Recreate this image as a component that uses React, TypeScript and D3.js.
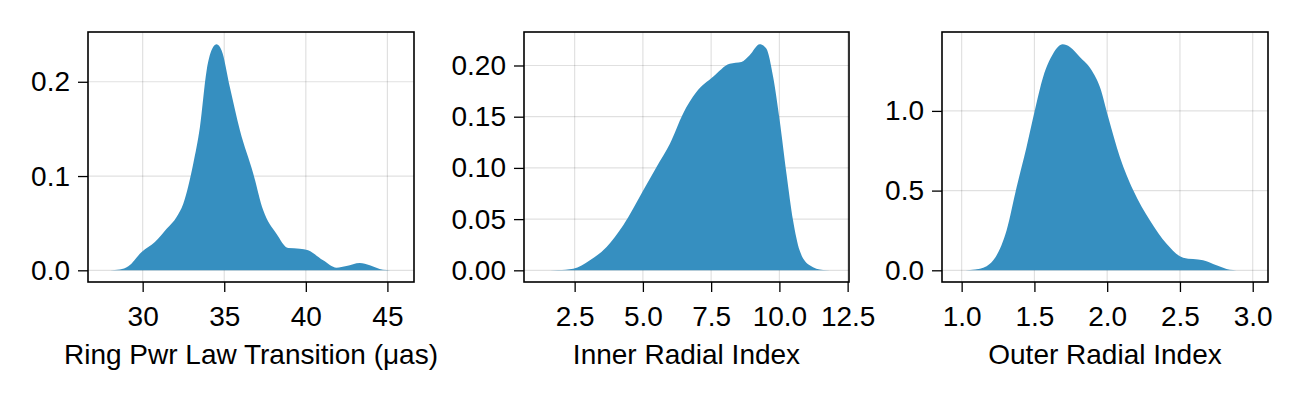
import * as d3 from "d3";
import { useEffect, useRef } from "react";

// Ring power-law transition (μas)
const ringX = [28.0, 28.6, 29.12, 29.94, 30.75, 31.47, 32.08, 32.49, 33.1, 33.51, 33.92, 34.32, 34.53, 34.84, 35.35, 35.96, 36.78, 37.39, 38.2, 38.92, 39.63, 40.14, 41.06, 41.88, 42.49, 43.31, 43.92, 44.73, 45.2];
const ringY = [0.0, 0.0008, 0.0042, 0.0194, 0.03, 0.044, 0.0566, 0.0707, 0.113, 0.152, 0.212, 0.2368, 0.2397, 0.2333, 0.194, 0.1485, 0.1025, 0.0636, 0.0389, 0.0237, 0.023, 0.0212, 0.0106, 0.0028, 0.0046, 0.0078, 0.0053, 0.0005, 0.0];

// Inner radial index
const innerX = [1.3, 1.9, 2.45, 3.06, 3.67, 4.28, 5.01, 5.5, 5.99, 6.47, 6.96, 7.57, 8.18, 8.61, 8.91, 9.28, 9.52, 9.77, 10.01, 10.26, 10.5, 10.74, 11.11, 11.6, 12.1];
const innerY = [0.0, 0.0003, 0.0016, 0.0098, 0.0228, 0.044, 0.078, 0.101, 0.1237, 0.153, 0.174, 0.189, 0.2018, 0.2035, 0.21, 0.2207, 0.2165, 0.189, 0.1465, 0.0944, 0.0488, 0.0195, 0.0049, 0.0003, 0.0];

// Outer radial index
const outerX = [0.99, 1.126, 1.217, 1.309, 1.378, 1.446, 1.503, 1.56, 1.629, 1.694, 1.744, 1.812, 1.893, 1.95, 2.007, 2.087, 2.179, 2.293, 2.408, 2.522, 2.659, 2.751, 2.843, 2.93];
const outerY = [0.0, 0.0105, 0.0627, 0.251, 0.523, 0.774, 1.004, 1.213, 1.36, 1.418, 1.401, 1.338, 1.255, 1.15, 0.962, 0.711, 0.502, 0.314, 0.167, 0.0795, 0.0627, 0.0314, 0.004, 0.0];

const ringXTicks = [30, 35, 40, 45];
const ringYTicks = [0.0, 0.1, 0.2];
const innerXTicks = [2.5, 5.0, 7.5, 10.0, 12.5];
const innerYTicks = [0.0, 0.05, 0.1, 0.15, 0.2];
const outerXTicks = [1.0, 1.5, 2.0, 2.5, 3.0];
const outerYTicks = [0.0, 0.5, 1.0];

const labels = ["Ring Pwr Law Transition (μas)", "Inner Radial Index", "Outer Radial Index"];

const W = 1300,
  H = 400;
const FONT = "'Liberation Sans', Arial, sans-serif";
const FILL = "#368fc0";

const panels = [
  { xs: ringX, ys: ringY, xd: [26.65, 46.63], yd: [-0.0124, 0.2528], xt: ringXTicks, yt: ringYTicks, xf: d3.format("d"), yf: d3.format(".1f"), left: 88, right: 414, label: labels[0] },
  { xs: innerX, ys: innerY, xd: [0.645, 12.55], yd: [-0.0114, 0.2327], xt: innerXTicks, yt: innerYTicks, xf: d3.format(".1f"), yf: d3.format(".2f"), left: 524, right: 849, label: labels[1] },
  { xs: outerX, ys: outerY, xd: [0.865, 3.105], yd: [-0.0734, 1.495], xt: outerXTicks, yt: outerYTicks, xf: d3.format(".1f"), yf: d3.format(".1f"), left: 942, right: 1268, label: labels[2] },
];

const top = 32,
  bottom = 282;

const App = () => {
  const ref = useRef<SVGSVGElement>(null);

  useEffect(() => {
    const svg = d3.select(ref.current);
    svg.selectAll("*").remove();

    panels.forEach((p) => {
      const x = d3.scaleLinear().domain(p.xd).range([p.left, p.right]);
      const y = d3.scaleLinear().domain(p.yd).range([bottom, top]);
      const g = svg.append("g");

      // grid
      g.append("g")
        .selectAll("line.vx")
        .data(p.xt)
        .enter()
        .append("line")
        .attr("x1", (d) => x(d))
        .attr("x2", (d) => x(d))
        .attr("y1", top)
        .attr("y2", bottom)
        .attr("stroke", "rgba(0,0,0,0.12)")
        .attr("stroke-width", 1.2);
      g.append("g")
        .selectAll("line.hy")
        .data(p.yt)
        .enter()
        .append("line")
        .attr("x1", p.left)
        .attr("x2", p.right)
        .attr("y1", (d) => y(d))
        .attr("y2", (d) => y(d))
        .attr("stroke", "rgba(0,0,0,0.12)")
        .attr("stroke-width", 1.2);

      // density
      const pts = p.xs.map((v, i) => [v, p.ys[i]] as [number, number]);
      const area = d3
        .area<[number, number]>()
        .x((d) => x(d[0]))
        .y0(y(0))
        .y1((d) => y(d[1]))
        .curve(d3.curveMonotoneX);
      g.append("path").attr("d", area(pts)).attr("fill", FILL);

      // axes
      const ax = g
        .append("g")
        .attr("transform", `translate(0,${bottom})`)
        .call(d3.axisBottom(x).tickValues(p.xt).tickFormat(p.xf as any).tickSize(10).tickPadding(14));
      const ay = g
        .append("g")
        .attr("transform", `translate(${p.left},0)`)
        .call(d3.axisLeft(y).tickValues(p.yt).tickFormat(p.yf as any).tickSize(10).tickPadding(8));
      [ax, ay].forEach((a) => {
        a.select(".domain").remove();
        a.selectAll("line").attr("stroke", "#000").attr("stroke-width", 1.3);
        a.selectAll("text").attr("fill", "#000").style("font-family", FONT).style("font-size", "28px");
      });

      // frame
      g.append("rect")
        .attr("x", p.left)
        .attr("y", top)
        .attr("width", p.right - p.left)
        .attr("height", bottom - top)
        .attr("fill", "none")
        .attr("stroke", "#000")
        .attr("stroke-width", 1.6);

      g.append("text")
        .attr("x", (p.left + p.right) / 2)
        .attr("y", 364)
        .attr("text-anchor", "middle")
        .style("font-family", FONT)
        .style("font-size", "28px")
        .text(p.label);
    });
  }, []);

  return <svg ref={ref} width={W} height={H} style={{ position: "absolute", left: 0, top: 0, background: "#fff" }} />;
};

export default App;
